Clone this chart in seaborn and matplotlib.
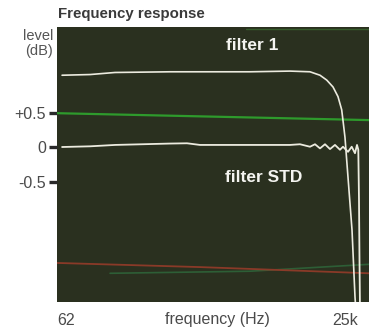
import matplotlib
matplotlib.use("Agg")
import matplotlib.pyplot as plt
import seaborn as sns
import pandas as pd

# ---- data ----
filter1_freq = [57, 104, 178, 581, 3244, 7667, 11790, 14620, 16890, 19340, 21530,
                23310, 24120, 25020, 25960, 29100, 31030, 31710]
filter1_db = [1.04, 1.05, 1.08, 1.09, 1.09, 1.10, 1.09, 1.04, 0.97, 0.87, 0.73,
              0.54, 0.35, 0.14, -0.19, -1.20, -2.17, -2.40]

std_freq = [57, 104, 178, 581, 837, 1107, 6740, 7667, 9508, 11790, 13130, 14620,
            16280, 18130, 20180, 22470, 23970, 26700, 28910, 31030, 32400, 33320,
            33820, 34190, 34560]
std_db = [0.0, 0.01, 0.03, 0.05, 0.054, 0.03, 0.03, 0.03, 0.04, 0.004, 0.04, -0.02,
          0.04, -0.03, 0.03, -0.04, 0.004, -0.07, 0.004, -0.09, 0.03, -0.04,
          -0.77, -1.64, -2.36]

green_freq = [51, 42000]
green_db = [0.49, 0.39]

red_freq = [51, 1107, 42000]
red_db = [-1.68, -1.74, -1.83]

teal_freq = [160, 3244, 42000]
teal_db = [-1.83, -1.80, -1.70]

top_green_freq = [3000, 42000]
top_green_db = [1.71, 1.71]

ytick_vals = [0.5, 0, -0.5]
ytick_labels = ["+0.5", "0", "-0.5"]
xtick_vals = [62, 25000]
xtick_labels = ["62", "25k"]

sns.set_style("white")
plt.rcParams["font.family"] = ["Liberation Sans", "DejaVu Sans"]

fig = plt.figure(figsize=(3.74, 3.30), dpi=100)
ax = fig.add_axes([57 / 374, 28 / 330, 312 / 374, 275 / 330])
ax.set_facecolor("#2a301f")

def line(xs, ys, color, lw, alpha=1.0):
    df = pd.DataFrame({"f": xs, "db": ys})
    sns.lineplot(data=df, x="f", y="db", ax=ax, color=color, lw=lw,
                 estimator=None, sort=False, alpha=alpha)

line(top_green_freq, top_green_db, "#3f7a34", 1.0, 0.6)
line(green_freq, green_db, "#2e9a2c", 1.6)
line(teal_freq, teal_db, "#2f6a3c", 1.2, 0.8)
line(red_freq, red_db, "#8a3a28", 1.3)
line(filter1_freq, filter1_db, "#ecebdf", 1.2)
line(std_freq, std_db, "#ecebdf", 1.3)

ax.set_xscale("log")
ax.set_xlim(51.1, 41940)
ax.set_ylim(-2.246, 1.739)
ax.minorticks_off()

ax.set_yticks(ytick_vals)
ax.set_yticklabels(ytick_labels)
ax.set_xticks(xtick_vals)
ax.set_xticklabels(xtick_labels)
ax.tick_params(axis="y", length=6, width=2.4, color="#2a2a2a", direction="out",
               pad=2, labelsize=11.5, labelcolor="#4a4a4a", left=True)
ax.tick_params(axis="x", length=0, pad=8, labelsize=11.5, labelcolor="#4a4a4a")

ax.set_xlabel("frequency (Hz)", fontsize=11.5, color="#4a4a4a")
ax.xaxis.set_label_coords(0.513, -0.035)
ax.set_ylabel("")

for s in ax.spines.values():
    s.set_visible(False)

fig.text(58 / 374, 1 - 18 / 330, "Frequency response", fontsize=10.8, fontweight="bold",
         color="#3a3a3a", ha="left", va="baseline")
fig.text(53 / 374, 1 - 36 / 330, "level", fontsize=10.5, color="#555555",
         ha="right", va="center")
fig.text(53 / 374, 1 - 51 / 330, "(dB)", fontsize=10.5, color="#555555",
         ha="right", va="center")

ax.text(252 / 374, 1 - 45 / 330, "filter 1", transform=fig.transFigure,
        fontsize=12.5, fontweight="bold", color="#f4f4f0", ha="center", va="center")
ax.text(264 / 374, 1 - 178 / 330, "filter STD", transform=fig.transFigure,
        fontsize=12.5, fontweight="bold", color="#f4f4f0", ha="center", va="center")

fig.savefig("out.png", dpi=100)
